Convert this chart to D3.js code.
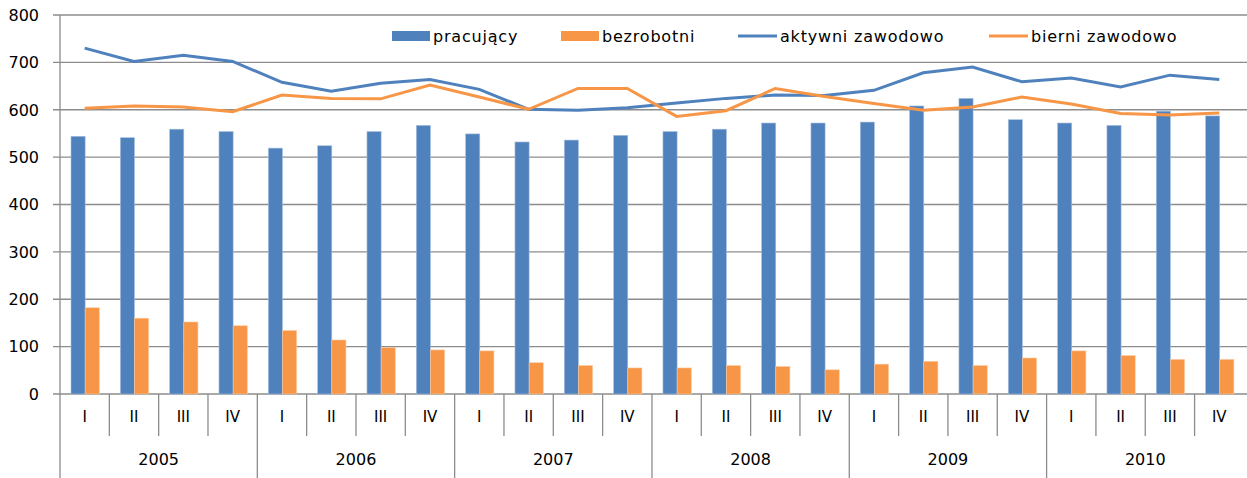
<!DOCTYPE html>
<html>
<head>
<meta charset="utf-8">
<script src="https://cdn.jsdelivr.net/npm/d3@7"></script>
<style>
  body { margin: 0; background: #fff; }
  text { font-family: "DejaVu Sans", Verdana, sans-serif; fill: #000; }
</style>
</head>
<body>
<svg width="1247" height="478"></svg>
<script>
// data
var years = ["2005", "2006", "2007", "2008", "2009", "2010"];
var quarters = ["I", "II", "III", "IV"];
var pracujacy = [544, 541, 559, 554, 519, 524, 554, 567, 549, 532, 536, 546,
                 554, 559, 572, 572, 574, 608, 624, 579, 572, 567, 597, 587];
var bezrobotni = [182, 160, 152, 144, 134, 114, 98, 93, 91, 66, 60, 55,
                  55, 60, 58, 51, 63, 69, 60, 76, 91, 81, 73, 73];
var aktywni = [730, 702, 715, 702, 658, 639, 656, 664, 643, 601, 599, 604,
               614, 624, 631, 630, 641, 678, 690, 659, 667, 648, 673, 664];
var bierni = [603, 608, 606, 596, 631, 624, 623, 652, 627, 601, 645, 645,
              586, 598, 645, 628, 613, 599, 606, 627, 612, 592, 589, 593];
var yTicks = [0, 100, 200, 300, 400, 500, 600, 700, 800];

var blue = "#4F81BD", orange = "#F79646", grid = "#8C8C8C";

var margin = {top: 15, left: 60},
    width = 24 * 49.33,
    height = 379;

var svg = d3.select("svg");
var g = svg.append("g")
    .attr("transform", "translate(" + margin.left + "," + margin.top + ")");

var keys = [];
years.forEach(function(y) {
  quarters.forEach(function(q) { keys.push(y + "-" + q); });
});

var x = d3.scaleBand().domain(keys).range([0, width]);
var xInner = d3.scaleBand().domain(["p", "b"]).range([11, 39.3]);
var yScale = d3.scaleLinear().domain([0, 800]).range([height, 0]);

// gridlines + y axis labels
g.selectAll(".grid").data(yTicks).enter().append("line")
    .attr("x1", -7).attr("x2", 1247 - margin.left)
    .attr("y1", function(d) { return yScale(d); })
    .attr("y2", function(d) { return yScale(d); })
    .style("stroke", grid).style("stroke-width", 1.3);

g.selectAll(".ylab").data(yTicks).enter().append("text")
    .attr("x", -21)
    .attr("y", function(d) { return yScale(d); })
    .attr("dy", "0.36em")
    .attr("text-anchor", "end")
    .style("font-size", "16px")
    .text(function(d) { return d; });

// bars
var rows = keys.map(function(k, i) {
  return {key: k, p: pracujacy[i], b: bezrobotni[i]};
});

var grp = g.selectAll(".cat").data(rows).enter().append("g")
    .attr("transform", function(d) { return "translate(" + x(d.key) + ",0)"; });

grp.append("rect")
    .attr("x", xInner("p")).attr("width", xInner.bandwidth())
    .attr("y", function(d) { return yScale(d.p); })
    .attr("height", function(d) { return height - yScale(d.p); })
    .style("fill", blue).style("stroke", "#A7C0DE").style("stroke-width", 0.6);

grp.append("rect")
    .attr("x", xInner("b")).attr("width", xInner.bandwidth())
    .attr("y", function(d) { return yScale(d.b); })
    .attr("height", function(d) { return height - yScale(d.b); })
    .style("fill", orange).style("stroke", "#FBC9A2").style("stroke-width", 0.6);

// lines
var line = d3.line()
    .x(function(d, i) { return x(keys[i]) + x.bandwidth() / 2; })
    .y(function(d) { return yScale(d); });

g.append("path").datum(aktywni).attr("d", line)
    .style("fill", "none").style("stroke", blue).style("stroke-width", 3);
g.append("path").datum(bierni).attr("d", line)
    .style("fill", "none").style("stroke", orange).style("stroke-width", 3);

// y axis line (continues through the category labels)
g.append("line")
    .attr("x1", 0).attr("x2", 0).attr("y1", 0).attr("y2", 463 - 0)
    .style("stroke", grid).style("stroke-width", 1.3);

// category axis: quarter boxes and year boxes
keys.forEach(function(k, i) {
  if (i === 0) return;
  var big = i % 4 === 0;
  g.append("line")
      .attr("x1", x(k)).attr("x2", x(k))
      .attr("y1", height).attr("y2", big ? 463 : height + 42)
      .style("stroke", grid).style("stroke-width", 1.3);
});

g.selectAll(".qlab").data(keys).enter().append("text")
    .attr("x", function(d) { return x(d) + x.bandwidth() / 2; })
    .attr("y", height + 27.5)
    .attr("text-anchor", "middle")
    .style("font-size", "15px")
    .text(function(d) { return d.split("-")[1]; });

g.selectAll(".ylab2").data(years).enter().append("text")
    .attr("x", function(d) { return x(d + "-I") + 2 * x.bandwidth(); })
    .attr("y", height + 71)
    .attr("text-anchor", "middle")
    .style("font-size", "16px")
    .text(function(d) { return d; });

// legend
var legend = [
  {name: "pracujący", color: blue, type: "rect", x: 392, tx: 433},
  {name: "bezrobotni", color: orange, type: "rect", x: 561, tx: 602},
  {name: "aktywni zawodowo", color: blue, type: "line", x: 738, tx: 780},
  {name: "bierni zawodowo", color: orange, type: "line", x: 989, tx: 1031}
];

legend.forEach(function(d) {
  if (d.type === "rect") {
    svg.append("rect").attr("x", d.x).attr("y", 31).attr("width", 38).attr("height", 10)
        .style("fill", d.color);
  } else {
    svg.append("line").attr("x1", d.x).attr("x2", d.x + 39).attr("y1", 36).attr("y2", 36)
        .style("stroke", d.color).style("stroke-width", 3);
  }
  svg.append("text").attr("x", d.tx).attr("y", 42)
      .style("font-size", "16px").style("letter-spacing", "0.8px")
      .text(d.name);
});
</script>
</body>
</html>
